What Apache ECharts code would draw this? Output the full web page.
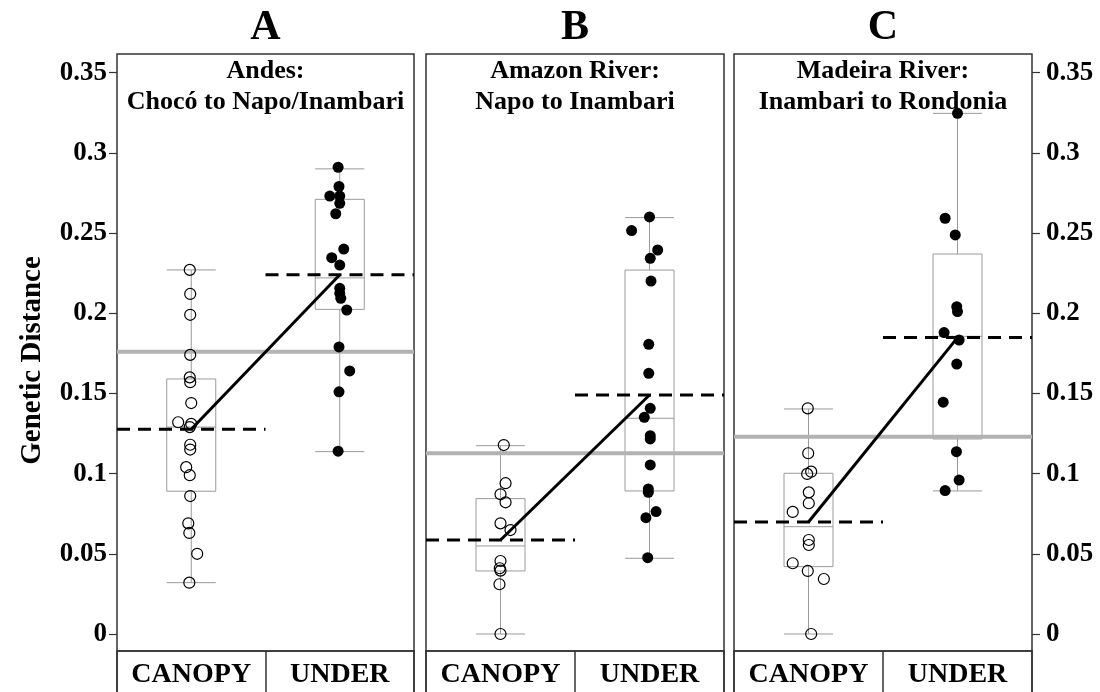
<!DOCTYPE html>
<html>
<head>
<meta charset="utf-8">
<script src="https://cdn.jsdelivr.net/npm/echarts@6/dist/echarts.min.js"></script>
<style>
  html, body { margin: 0; padding: 0; background: #fff; }
  #chart { width: 1100px; height: 692px; }
</style>
</head>
<body>
<div id="chart"></div>
<script>
// Habitat groups on each panel's x axis
const groups = ['CANOPY', 'UNDER'];
const panelLetters = ['A', 'B', 'C'];
const panelTitles = [
  'Andes:\nChocó to Napo/Inambari',
  'Amazon River:\nNapo to Inambari',
  'Madeira River:\nInambari to Rondonia'
];
const yTicks = [0, 0.05, 0.1, 0.15, 0.2, 0.25, 0.3, 0.35];

// Pairwise genetic distances (canopy = open circles, understory = filled dots)
const canopyA = [0.227, 0.212, 0.199, 0.174, 0.160, 0.157, 0.144, 0.132, 0.131, 0.129, 0.118, 0.115, 0.104, 0.099, 0.086, 0.069, 0.063, 0.050, 0.032];
const underA = [0.291, 0.279, 0.273, 0.273, 0.2685, 0.262, 0.240, 0.2346, 0.230, 0.2155, 0.2124, 0.2093, 0.202, 0.179, 0.164, 0.151, 0.114];
const canopyB = [0.1178, 0.094, 0.0871, 0.0821, 0.069, 0.0648, 0.0455, 0.041, 0.0395, 0.031, 0];
const underB = [0.260, 0.2515, 0.2394, 0.2342, 0.220, 0.1806, 0.1625, 0.1407, 0.1351, 0.1236, 0.1216, 0.1054, 0.0904, 0.0883, 0.0763, 0.0725, 0.0476];
const canopyC = [0.1407, 0.1127, 0.0998, 0.1012, 0.0883, 0.0815, 0.0761, 0.0586, 0.0555, 0.0441, 0.0393, 0.0343, 0];
const underC = [0.3246, 0.2592, 0.2488, 0.2041, 0.2010, 0.1879, 0.1833, 0.1683, 0.1445, 0.1137, 0.096, 0.0894];

// Horizontal jitter of each point, in category units
const canopyJitterA = [-0.01, -0.007, -0.007, -0.007, -0.01, -0.007, 0, -0.088, 0, -0.01, -0.007, -0.007, -0.034, -0.01, -0.007, -0.02, -0.013, 0.04, -0.013];
const underJitterA = [-0.011, -0.005, -0.067, 0, 0, -0.027, 0.027, -0.054, 0, 0, 0, 0.007, 0.047, -0.005, 0.067, -0.005, -0.011];
const canopyJitterB = [0.022, 0.034, 0, 0.034, 0, 0.067, 0, -0.005, 0, -0.007, 0];
const underJitterB = [0, -0.12, 0.055, 0.005, 0.01, -0.005, -0.005, 0.005, -0.035, 0.005, 0.005, 0.005, -0.008, -0.008, 0.044, -0.024, -0.012];
const canopyJitterC = [-0.005, -0.002, -0.009, 0.018, 0.002, 0.002, -0.106, 0.002, 0.002, -0.106, -0.005, 0.103, 0.018];
const underJitterC = [0, -0.083, -0.015, -0.005, 0, -0.09, 0.011, -0.005, -0.096, -0.007, 0.011, -0.083];

// Box summaries [min, Q1, median, Q3, max] for CANOPY and UNDER
const boxA = [[0.032, 0.089, 0.129, 0.159, 0.227], [0.1137, 0.2024, 0.222, 0.271, 0.290]];
const boxB = [[0, 0.0393, 0.0549, 0.0844, 0.1174], [0.0472, 0.0892, 0.1345, 0.2269, 0.2596]];
const boxC = [[0, 0.042, 0.0669, 0.1002, 0.1403], [0.0892, 0.1216, 0.1856, 0.2369, 0.3246]];

// Group means (dashed lines) and reference level (grey line)
const meansA = [0.1276, 0.224];
const meansB = [0.0586, 0.149];
const meansC = [0.0698, 0.1848];
const referenceLevel = [0.176, 0.1127, 0.123];

const panels = [
  { canopy: canopyA, under: underA, cj: canopyJitterA, uj: underJitterA, box: boxA, means: meansA },
  { canopy: canopyB, under: underB, cj: canopyJitterB, uj: underJitterB, box: boxB, means: meansB },
  { canopy: canopyC, under: underC, cj: canopyJitterC, uj: underJitterC, box: boxC, means: meansC }
];

const SERIF = "'Liberation Serif', 'Times New Roman', serif";
const panelLeft = [117, 426, 734];
const panelWidth = [297, 298, 298];
const plotTop = 54;
const plotHeight = 597;
const Y_MIN = -0.0106;
const Y_MAX = 0.3616;

const option = {
  animation: false,
  backgroundColor: '#ffffff',
  textStyle: { fontFamily: SERIF },
  title: [],
  grid: [],
  xAxis: [],
  yAxis: [],
  series: []
};

panels.forEach((p, i) => {
  const left = panelLeft[i];
  const width = panelWidth[i];
  const cx = left + width / 2;

  option.title.push({
    text: panelLetters[i], left: cx, top: 28, padding: 0,
    textAlign: 'center', textVerticalAlign: 'middle',
    textStyle: { fontFamily: SERIF, fontWeight: 'bold', fontSize: 42, color: '#000' }
  });
  option.title.push({
    text: panelTitles[i], left: cx, top: 87, padding: 0,
    textAlign: 'center', textVerticalAlign: 'middle',
    textStyle: { fontFamily: SERIF, fontWeight: 'bold', fontSize: 26, lineHeight: 31, color: '#000' }
  });

  const g = option.grid.length;
  option.grid.push({ left: left, top: plotTop, width: width, height: plotHeight, show: true,
    borderColor: '#333', borderWidth: 1.5, outerBoundsMode: 'none' });
  option.grid.push({ left: left, top: plotTop + plotHeight, width: width, height: 60, show: true,
    borderColor: '#333', borderWidth: 1.5, outerBoundsMode: 'none' });

  const xb = option.xAxis.length;
  option.xAxis.push({ type: 'category', gridIndex: g, data: groups, show: false });
  option.xAxis.push({ type: 'value', gridIndex: g, min: -0.5, max: 1.5, show: false });
  option.xAxis.push({
    type: 'category', gridIndex: g + 1, data: groups, position: 'top',
    axisLine: { show: false }, axisTick: { show: false },
    splitLine: { show: true, interval: 0, lineStyle: { color: '#333', width: 1.5 } },
    axisLabel: { inside: true, interval: 0, hideOverlap: false, margin: 10,
      fontFamily: SERIF, fontWeight: 'bold', fontSize: 28, color: '#000' }
  });

  const yb = option.yAxis.length;
  option.yAxis.push({
    type: 'value', gridIndex: g, min: Y_MIN, max: Y_MAX,
    position: i === 2 ? 'right' : 'left',
    show: i !== 1,
    axisLine: { show: false, onZero: false },
    splitLine: { show: false },
    axisTick: { show: true, customValues: yTicks, length: 8, lineStyle: { color: '#333', width: 1.2 } },
    axisLabel: {
      customValues: yTicks, margin: i === 2 ? 14 : 10,
      formatter: (v) => String(v),
      fontFamily: SERIF, fontWeight: 'bold', fontSize: 27, color: '#000'
    },
    name: i === 0 ? 'Genetic Distance' : '',
    nameLocation: 'middle', nameRotate: 90, nameGap: 70,
    nameTextStyle: { fontFamily: SERIF, fontWeight: 'bold', fontSize: 29, color: '#000', padding: [0, 16, 0, 0] }
  });
  option.yAxis.push({ type: 'value', gridIndex: g + 1, min: 0, max: 1, show: false });

  // boxes and whiskers
  option.series.push({
    type: 'boxplot', xAxisIndex: xb, yAxisIndex: yb, data: p.box,
    boxWidth: [49, 49], silent: true, z: 1,
    itemStyle: { color: 'rgba(0,0,0,0)', borderColor: '#9a9a9a', borderWidth: 1 }
  });
  // grey reference level across the panel
  option.series.push({
    type: 'line', xAxisIndex: xb + 1, yAxisIndex: yb, silent: true, z: 2,
    data: [[-0.5, referenceLevel[i]], [1.5, referenceLevel[i]]],
    symbol: 'none', lineStyle: { color: '#b2b2b2', width: 4 }
  });
  // dashed group means
  [0, 1].forEach((k) => {
    option.series.push({
      type: 'line', xAxisIndex: xb + 1, yAxisIndex: yb, silent: true, z: 3,
      data: [[k - 0.5, p.means[k]], [k + 0.5, p.means[k]]],
      symbol: 'none', lineStyle: { color: '#000', width: 3, type: [13, 8] }
    });
  });
  // line joining the two means
  option.series.push({
    type: 'line', xAxisIndex: xb + 1, yAxisIndex: yb, silent: true, z: 3,
    data: [[0, p.means[0]], [1, p.means[1]]],
    symbol: 'none', lineStyle: { color: '#000', width: 3 }
  });
  // points
  option.series.push({
    type: 'scatter', xAxisIndex: xb + 1, yAxisIndex: yb, silent: true, z: 4,
    data: p.canopy.map((v, k) => [p.cj[k], v]),
    symbol: 'circle', symbolSize: 11,
    itemStyle: { color: 'rgba(255,255,255,0)', borderColor: '#000', borderWidth: 1.2, opacity: 1 }
  });
  option.series.push({
    type: 'scatter', xAxisIndex: xb + 1, yAxisIndex: yb, silent: true, z: 4,
    data: p.under.map((v, k) => [1 + p.uj[k], v]),
    symbol: 'circle', symbolSize: 11,
    itemStyle: { color: '#000', opacity: 1 }
  });
});

const chart = echarts.init(document.getElementById('chart'), null, { renderer: 'canvas' });
chart.setOption(option);
</script>
</body>
</html>
